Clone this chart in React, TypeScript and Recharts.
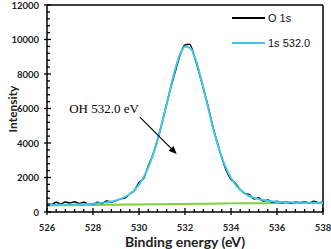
import { LineChart, Line, XAxis, YAxis, ReferenceLine, Legend } from "recharts";

// measured spectrum (O 1s), 0.2 eV steps
const rawEnergy = [
  526.0, 526.2, 526.4, 526.6, 526.8, 527.0, 527.2, 527.4, 527.6, 527.8,
  528.0, 528.2, 528.4, 528.6, 528.8, 529.0, 529.2, 529.4, 529.6, 529.8,
  530.0, 530.2, 530.4, 530.6, 530.8, 531.0, 531.2, 531.4, 531.6, 531.8,
  532.0, 532.2, 532.4, 532.6, 532.8, 533.0, 533.2, 533.4, 533.6, 533.8,
  534.0, 534.2, 534.4, 534.6, 534.8, 535.0, 535.2, 535.4, 535.6, 535.8,
  536.0, 536.2, 536.4, 536.6, 536.8, 537.0, 537.2, 537.4, 537.6, 537.8, 538.0,
];
const rawIntensity = [
  480, 430, 560, 470, 580, 520, 590, 500, 560, 470,
  450, 560, 500, 640, 580, 660, 760, 820, 1060, 1250,
  1700, 1950, 2650, 3300, 4150, 5150, 6250, 7300, 8250, 9150,
  9680, 9720, 9050, 8150, 7150, 6150, 5000, 4050, 3150, 2400,
  1900, 1650, 1300, 1080, 1000, 760, 820, 640, 700, 560,
  620, 540, 600, 510, 580, 540, 600, 520, 620, 540, 560,
];

// fitted component 1s 532.0, 0.25 eV steps
const fitEnergy = [
  526.0, 526.25, 526.5, 526.75, 527.0, 527.25, 527.5, 527.75,
  528.0, 528.25, 528.5, 528.75, 529.0, 529.25, 529.5, 529.75,
  530.0, 530.25, 530.5, 530.75, 531.0, 531.25, 531.5, 531.75,
  532.0, 532.25, 532.5, 532.75, 533.0, 533.25, 533.5, 533.75,
  534.0, 534.25, 534.5, 534.75, 535.0, 535.25, 535.5, 535.75,
  536.0, 536.25, 536.5, 536.75, 537.0, 537.25, 537.5, 537.75, 538.0,
];
const fitIntensity = [
  398, 405, 415, 420, 426, 434, 446, 458,
  478, 506, 543, 595, 672, 786, 955, 1205,
  1584, 2137, 2909, 3919, 5158, 6525, 7900, 9020,
  9600, 9480, 8680, 7450, 6060, 4716, 3567, 2646,
  1973, 1500, 1173, 956, 821, 731, 669, 624,
  597, 576, 563, 554, 548, 545, 542, 540, 535,
];

// background
const bgEnergy = [526, 527, 528, 529, 530, 531, 532, 533, 534, 535, 536, 537, 538];
const bgIntensity = [380, 395, 410, 425, 440, 455, 470, 485, 500, 510, 515, 515, 515];

const xTicks = [
  526, 526.4, 526.8, 527.2, 527.6, 528, 528.4, 528.8, 529.2, 529.6,
  530, 530.4, 530.8, 531.2, 531.6, 532, 532.4, 532.8, 533.2, 533.6,
  534, 534.4, 534.8, 535.2, 535.6, 536, 536.4, 536.8, 537.2, 537.6, 538,
];
const xLabels = [526, 528, 530, 532, 534, 536, 538];
const yTicks = [
  0, 400, 800, 1200, 1600, 2000, 2400, 2800, 3200, 3600,
  4000, 4400, 4800, 5200, 5600, 6000, 6400, 6800, 7200, 7600,
  8000, 8400, 8800, 9200, 9600, 10000, 10400, 10800, 11200, 11600, 12000,
];
const yLabels = [0, 2000, 4000, 6000, 8000, 10000, 12000];
const legendOrder = ["O 1s", "1s 532.0"];

const rawData = rawEnergy.map((e, i) => ({ e, v: rawIntensity[i] }));
const fitData = fitEnergy.map((e, i) => ({ e, v: fitIntensity[i] }));
const bgData = bgEnergy.map((e, i) => ({ e, v: bgIntensity[i] }));

const tickFont = "Lato, 'Liberation Sans', sans-serif";

function XTick(props: any) {
  const { x, y, payload } = props;
  const major = xLabels.includes(payload.value);
  return (
    <g>
      <line x1={x} x2={x} y1={y - (major ? 4 : 3)} y2={major ? y + 3 : y} stroke="#000" strokeWidth={1.3} />
      {major && (
        <text x={x} y={y + 19} textAnchor="middle" fontFamily={tickFont} fontWeight="bold" fontSize={9.5} fill="#222">
          {payload.value}
        </text>
      )}
    </g>
  );
}

function YTick(props: any) {
  const { x, y, payload } = props;
  const major = yLabels.includes(payload.value);
  return (
    <g>
      <line x1={major ? x - 3 : x} x2={x + (major ? 4 : 3)} y1={y} y2={y} stroke="#000" strokeWidth={1.3} />
      {major && (
        <text x={x - 8} y={y + 3.5} textAnchor="end" fontFamily={tickFont} fontWeight="bold" fontSize={9.5} fill="#222">
          {payload.value}
        </text>
      )}
    </g>
  );
}

function Arrow(props: any) {
  const { x1, y1, x2, y2 } = props;
  const a = Math.atan2(y2 - y1, x2 - x1);
  const L = 8;
  const W = 3.5;
  const bx = x2 - L * Math.cos(a);
  const by = y2 - L * Math.sin(a);
  const pts = `${x2},${y2} ${bx + W * Math.sin(a)},${by - W * Math.cos(a)} ${bx - W * Math.sin(a)},${by + W * Math.cos(a)}`;
  return (
    <g>
      <text x={x1 - 1} y={y1 - 4} textAnchor="end" fontFamily="'Liberation Serif', 'Times New Roman', serif" fontSize={13} fill="#000">
        OH 532.0 eV
      </text>
      <line x1={x1} y1={y1} x2={bx} y2={by} stroke="#000" strokeWidth={1.2} />
      <polygon points={pts} fill="#000" />
    </g>
  );
}

function LegendBox(props: any) {
  const items = (props.payload || [])
    .filter((p: any) => p.type !== "none")
    .sort((a: any, b: any) => legendOrder.indexOf(a.value) - legendOrder.indexOf(b.value));
  return (
    <div style={{ fontFamily: "'Liberation Sans', Arial, sans-serif", fontSize: 11, color: "#111" }}>
      {items.map((p: any) => (
        <div key={p.value} style={{ display: "flex", alignItems: "center", height: 25 }}>
          <svg width={36} height={6}>
            <line x1={0} x2={33} y1={3} y2={3} stroke={p.color} strokeWidth={2} />
          </svg>
          <span>{p.value}</span>
        </div>
      ))}
    </div>
  );
}

export default function App() {
  return (
    <div style={{ position: "absolute", left: 0, top: 0, width: 331, height: 249, background: "#fff" }}>
      <LineChart width={331} height={249} margin={{ top: 5, right: 8, bottom: 0, left: 0 }}>
        <XAxis
          dataKey="e"
          type="number"
          domain={[526, 538]}
          ticks={xTicks}
          interval={0}
          tickSize={0}
          tickMargin={0}
          tickLine={false}
          tick={<XTick />}
          height={37}
          stroke="#000"
          strokeWidth={1.5}
          allowDataOverflow
        />
        <YAxis
          type="number"
          domain={[0, 12000]}
          ticks={yTicks}
          interval={0}
          tickSize={0}
          tickMargin={0}
          tickLine={false}
          tick={<YTick />}
          width={47}
          stroke="#000"
          strokeWidth={1.5}
          allowDataOverflow
        />
        <ReferenceLine y={12000} stroke="#000" strokeWidth={1.5} />
        <ReferenceLine x={538} stroke="#000" strokeWidth={1.5} />
        <Line data={bgData} dataKey="v" type="monotone" stroke="#7dd03a" strokeWidth={2} dot={false} legendType="none" isAnimationActive={false} />
        <Line data={rawData} dataKey="v" name="O 1s" type="monotone" stroke="#000" strokeWidth={1.5} dot={false} isAnimationActive={false} />
        <Line data={fitData} dataKey="v" name="1s 532.0" type="monotone" stroke="#3fc6ea" strokeWidth={2} dot={false} isAnimationActive={false} />
        <ReferenceLine
          segment={[
            { x: 530.04, y: 5500 },
            { x: 531.64, y: 3360 },
          ]}
          shape={<Arrow />}
        />
        <Legend
          layout="vertical"
          align="center"
          verticalAlign="middle"
          content={<LegendBox />}
          wrapperStyle={{ top: 5, left: 232, width: 95 }}
        />
      </LineChart>
      <div
        style={{
          position: "absolute",
          left: 185,
          top: 235,
          transform: "translateX(-50%)",
          whiteSpace: "nowrap",
          fontFamily: tickFont,
          fontWeight: "bold",
          fontSize: 14,
          lineHeight: "14px",
          color: "#222",
        }}
      >
        Binding energy (eV)
      </div>
      <div
        style={{
          position: "absolute",
          left: 13,
          top: 109,
          transform: "translate(-50%, -50%) rotate(-90deg)",
          whiteSpace: "nowrap",
          fontFamily: tickFont,
          fontWeight: "bold",
          fontSize: 12,
          lineHeight: "12px",
          color: "#222",
        }}
      >
        Intensity
      </div>
    </div>
  );
}
